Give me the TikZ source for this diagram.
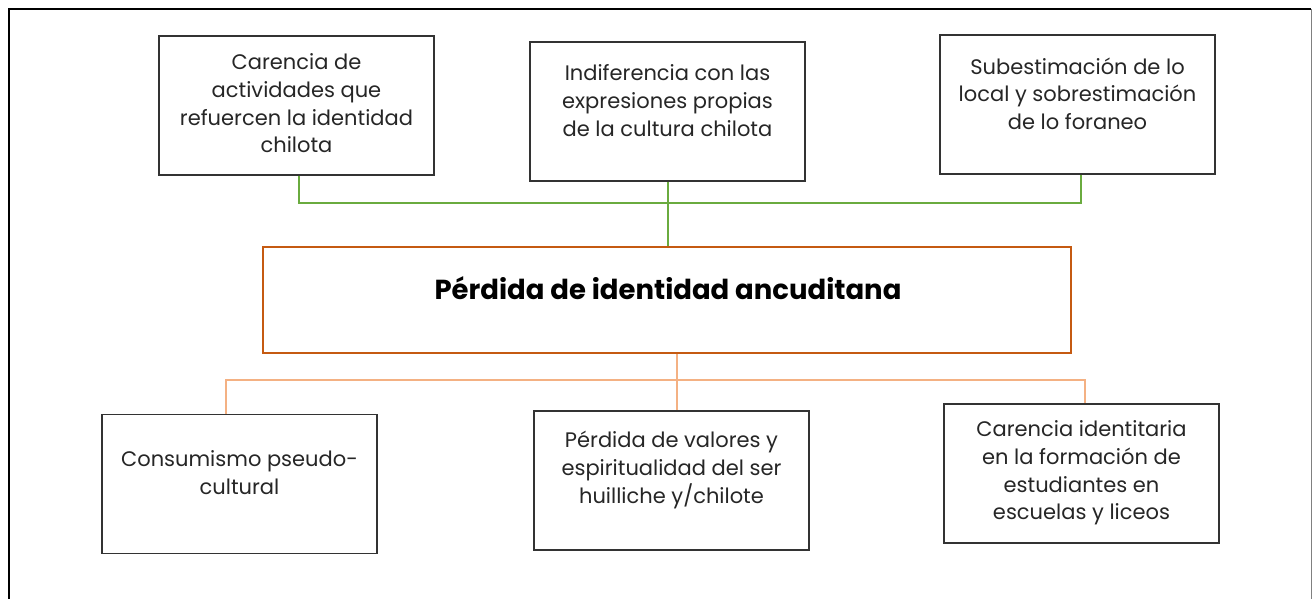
\documentclass[tikz,border=0pt]{standalone}
\usepackage{fontspec}
\setmainfont{Poppins}
\usetikzlibrary{positioning}

\definecolor{borde}{HTML}{333333}
\definecolor{verde}{HTML}{6AAB3F}
\definecolor{naranja}{HTML}{C55A11}
\definecolor{naranjaclaro}{HTML}{F4B183}

\begin{document}
\begin{tikzpicture}[x=1pt, y=-1pt,
    caja/.style={draw=borde, line width=1.4pt, minimum width=275pt, minimum height=139pt, inner sep=0pt},
    texto/.style={align=center, inner sep=0pt, text=black!85, font=\fontsize{21}{27.8}\selectfont},
    rama/.style={draw=verde, line width=1.3pt},
    raiz/.style={draw=naranjaclaro, line width=1.3pt}]
    \useasboundingbox (0,0) rectangle (1314,599);
    \fill[white] (0,0) rectangle (1314,599);

    % Page frame
    \draw[black, line width=2.4pt] (9,620) -- (9,9) -- (1311,9);
    \draw[gray, line width=1pt] (1311,9) -- (1311,620);

    % Causes
    \node[caja] (causa1) at (296.5,105.5) {};
    \node[caja] (causa2) at (667.5,111.5) {};
    \node[caja] (causa3) at (1077.5,104.5) {};
    \node[texto, below=18pt of causa1.north] (tcausa1) {Carencia de\\actividades que\\refuercen la identidad\\chilota};
    \node[texto, below=23pt of causa2.north] (tcausa2) {Indiferencia con las\\expresiones propias\\de la cultura chilota};
    \node[texto, below=23pt of causa3.north] (tcausa3) {Subestimación de lo\\local y sobrestimación\\de lo foraneo};

    % Central problem
    \node[draw=naranja, line width=2.6pt, minimum width=808pt, minimum height=106pt] (problema) at (667,300) {};
    \node[anchor=base, inner sep=0pt, font=\bfseries\fontsize{27.5}{32}\selectfont] (tproblema) at (668,299) {Pérdida de identidad ancuditana};

    % Effects
    \node[caja] (efecto1) at (239.5,484) {};
    \node[caja] (efecto2) at (671.5,480.5) {};
    \node[caja] (efecto3) at (1081.5,473.5) {};
    \node[texto, below=37pt of efecto1.north] (tefecto1) {Consumismo pseudo-\\cultural};
    \node[texto, below=21pt of efecto2.north] (tefecto2) {Pérdida de valores y\\espiritualidad del ser\\huilliche y/chilote};
    \node[texto, below=17pt of efecto3.north] (tefecto3) {Carencia identitaria\\en la formación de\\estudiantes en\\escuelas y liceos};

    % Green branches
    \coordinate (barra1) at (299,203);
    \coordinate (barra2) at (668,203);
    \coordinate (barra3) at (1081,203);
    \draw[rama] (causa1.south -| barra1) -- (barra1) -- (barra3) -- (causa3.south -| barra3);
    \draw[rama] (causa2.south -| barra2) -- (problema.north -| barra2);

    % Orange roots
    \coordinate (raiz1) at (226,380);
    \coordinate (raiz2) at (677,380);
    \coordinate (raiz3) at (1085,380);
    \draw[raiz] (efecto1.north -| raiz1) -- (raiz1) -- (raiz3) -- (efecto3.north -| raiz3);
    \draw[raiz] (problema.south -| raiz2) -- (efecto2.north -| raiz2);
\end{tikzpicture}
\end{document}
